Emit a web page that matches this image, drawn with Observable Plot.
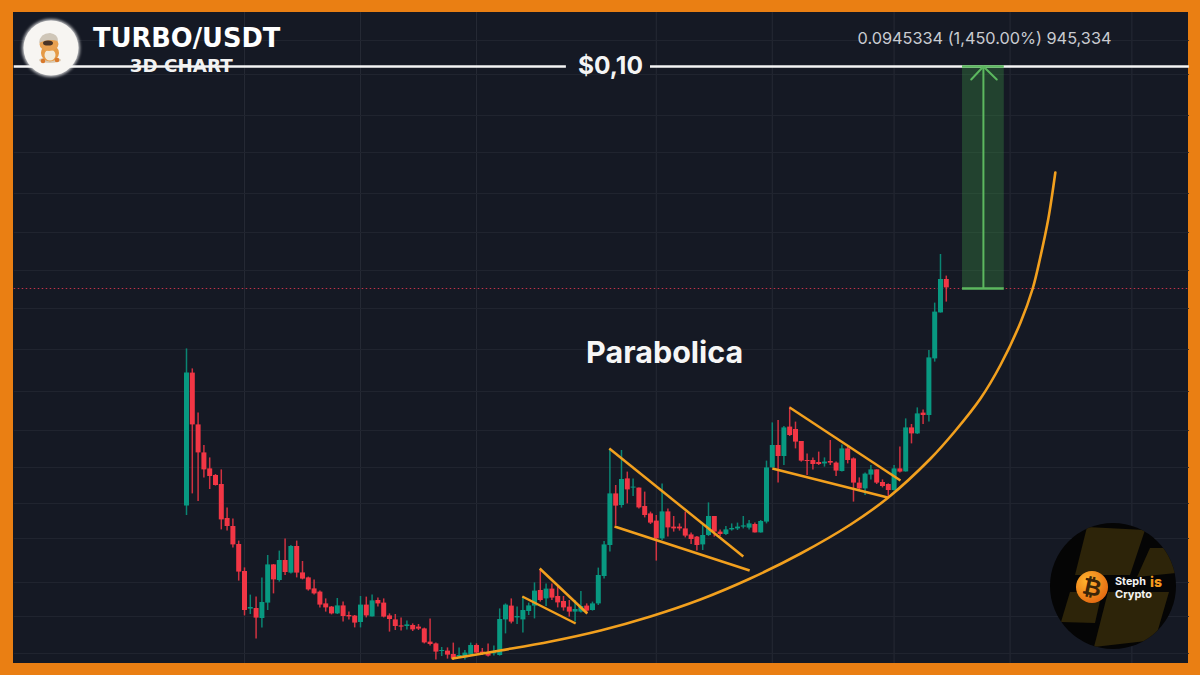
<!DOCTYPE html>
<html><head><meta charset="utf-8">
<script src="https://cdn.jsdelivr.net/npm/d3@7"></script>
<script src="https://cdn.jsdelivr.net/npm/@observablehq/plot@0.6"></script>
<style>
html,body{margin:0;padding:0;background:#ea7f13;overflow:hidden}
#panel{position:absolute;left:0;top:0;width:1200px;height:675px;box-sizing:border-box;background:#151924;
 border-style:solid;border-color:#ea7f13;border-width:12px 12px 12px 13.5px}
#chart{position:absolute;left:0;top:0;width:1200px;height:675px}
#chart svg{display:block;background:transparent}
.logo{position:absolute;left:0;top:0;width:1200px;height:675px;pointer-events:none}
</style></head><body>
<div id="panel"></div><div id="chart"></div>
<svg class="logo" viewBox="0 0 1200 675" xmlns="http://www.w3.org/2000/svg">
 <defs>
  <filter id="glow" x="-30%" y="-30%" width="160%" height="160%"><feGaussianBlur stdDeviation="1.6"/></filter>
  <clipPath id="disc"><circle cx="1113" cy="586" r="63"/></clipPath>
  <radialGradient id="coin" cx="35%" cy="30%" r="80%"><stop offset="0" stop-color="#ffb52e"/><stop offset="1" stop-color="#e2640f"/></radialGradient>
 </defs>
 <circle cx="51" cy="48" r="29" fill="#fff" opacity=".75" filter="url(#glow)"/>
 <circle cx="51" cy="48" r="27.5" fill="#f7f5f2"/>
 <ellipse cx="50" cy="60" rx="11" ry="3" fill="#d9c9b2"/>
 <ellipse cx="50" cy="53" rx="9" ry="8.5" fill="#e59a45"/>
 <ellipse cx="50" cy="55" rx="5.5" ry="5.5" fill="#f2ead9"/>
 <ellipse cx="49" cy="44" rx="9.5" ry="7" fill="#e8a050"/>
 <path d="M39 43 Q40 33 50 33 Q58 34 58 41 Q48 38 39 43Z" fill="#cfc6b8"/>
 <ellipse cx="48" cy="43" rx="5" ry="2.6" fill="#4a3426"/>
 <circle cx="43" cy="61" r="2.3" fill="#d9792c"/><circle cx="57" cy="60" r="2.3" fill="#d9792c"/>
 <circle cx="1113" cy="586" r="63" fill="#050505"/>
 <g clip-path="url(#disc)" fill="#2d2409">
  <path d="M1087 527 L1145 530 L1130 575 L1075 575Z"/>
  <path d="M1150 548 L1173 548 L1176 573 L1137 577Z"/>
  <path d="M1070 592 L1102 592 L1095 623 L1061 622Z"/>
  <path d="M1108 592 L1169 592 L1155 640 L1094 647Z"/>
 </g>
 <circle cx="1092" cy="587" r="16" fill="url(#coin)"/>
 <text x="1092" y="595" text-anchor="middle" font-family="Liberation Sans" font-weight="700" font-size="23" fill="#3a2408" transform="rotate(12 1092 587)">₿</text>
 <text x="1115" y="585" font-family="Inter" font-weight="700" font-size="10.8" fill="#f4f4f4">Steph</text>
 <text x="1150" y="587" font-family="Inter" font-weight="800" font-size="14" fill="#f59a1e">is</text>
 <text x="1115" y="597.5" font-family="Inter" font-weight="700" font-size="11" fill="#f4f4f4">Crypto</text>
</svg>
<script>
// Candles of the 3D chart. Values are chart levels proportional to log price.
const opens = [77.2,143.7,117.8,103.8,95.8,92.5,88,71,67,58,
44.5,25.7,26,21,28.7,47.8,40,50,43.7,57,
43.8,41.3,35.8,34.2,28.3,26.7,23.3,27.3,22.5,22.2,
19,27.7,21.8,30,28.7,22.3,20.3,17.3,17,17.5,
16.7,15.8,9.2,8.3,4.5,4.7,3,1.7,1.3,2.8,
7.5,4.2,3.8,3.3,2.5,20.3,27.2,21.3,20.3,24.5,
27.2,35,30.8,35.7,32,29.5,26.7,24.2,24.2,27.2,
25,28.3,42,57.5,83.3,77.5,90.8,86.2,86.2,77,
73.3,69.7,60.8,74.3,66.7,66.7,65.8,62.8,61.7,57.8,
62.5,72,64.2,63,65.3,65.8,66.7,66.2,68,63.8,
69.2,96.3,107.5,102,116.7,115.5,109.5,100,100,99,
98.3,99.5,98.7,94.5,105.8,100.8,88.7,85.8,92.7,95.3,
89,88,85,95.8,94.3,116.3,113.3,123.7,122.5,150.8,173.8,190.5];
const closes = [143.8,117.8,103.8,95.3,92,87.5,70.3,67,57.8,44.2,
25,26.5,21.2,29,47.8,40.3,50,44,57,43.7,
40.7,35.3,33.3,27.7,26.3,23.3,27.3,22,21.8,18.7,
27.7,22.3,29.8,28.3,21.7,20.5,17,16.7,17.8,15.3,
15.7,8.8,8,4.2,5,2.7,0.8,2.5,3.7,7.5,
3.7,3.3,2.2,4.2,20.5,27.7,19.2,22,25,27.3,
34.7,30,35.7,31.2,28.8,26.3,24.2,25.5,27,24.7,
28.3,42.5,57.8,83.3,77.2,90.5,85.3,86.7,76.3,72.5,
68.7,60.8,74.3,66.3,65.8,65.8,62.2,60.5,57.5,62.5,
72,64.2,63,65.3,66,66.7,67.3,68.3,63.8,69.5,
96.3,107.5,102,116.3,112.5,109.2,99.7,99.5,98,98,
99.2,98.7,94.7,105.8,100,88.7,85.8,93.2,95.3,88.7,
87,85,95.8,94.2,116.3,113.3,123.3,122.5,151.3,174.2,190.5,186.3];
const highs = [155.8,145.8,123.7,107.5,101.3,93,95.3,76.3,70.8,59.7,
46.3,32.7,31.7,41.2,52.5,48,54.7,60.8,57.5,59.7,
49.5,41.7,40.3,34.7,30.8,27,31,29.2,24.2,22.5,
32,31.7,32.8,31.3,30.8,23.3,23,21.2,19.7,18.3,
18,16.2,20.7,8.7,6.5,6.3,8.7,6.3,5,8.7,
8.3,6,8.3,7.2,25.8,28.3,30.8,26.7,31.7,28.7,
38.8,45,38.3,38.3,37,32,30,30,34.5,28.3,
29.2,46.2,59.5,105.8,87.5,105,94.2,90.8,86.2,84.2,
74.2,72.5,88.3,75.8,72,68.3,74.2,63.7,62,67.5,
78.8,72,65.3,67,68.3,68.7,72,70,68.7,70,
99.7,118.8,120,117,126.7,119.2,109.5,103.3,101.3,104.2,
101.3,110,99.2,107.8,106.7,101.3,91.3,93.7,97.5,95.3,
90.3,88.3,97.5,106.7,120.8,118,126.3,125.3,155,178.7,203,192.2];
const lows = [72.5,83.3,79.5,91.2,85.5,87.2,65.3,64.7,56.3,39.7,
22.3,23,10.8,16.3,25,33.3,39.2,42.5,43.3,41.3,
40.3,34.7,32.7,26.3,24.2,22.8,23,19.2,20.3,16.3,
16.3,21.3,21.7,26.7,21.3,14.2,15,14.7,15.3,14.5,
15,8.3,7.3,0.3,2,0.7,0,1.2,0.3,2.5,
3.3,2.5,1.7,2.2,2.2,13.3,18.3,18,13.7,22.5,
20.8,29.2,27,30,26.3,24.7,21.7,19.2,23.7,23.3,
24.7,27.5,40.8,54.2,67.5,76.2,78.3,82,75.8,71.3,
68,49.7,60,61.7,64.2,64.7,61.3,58,54.7,55,
62,61.7,62,62.5,64.7,65,65.8,65.3,63.7,63.7,
68.3,96.2,88.7,97.5,112,105.8,99.2,92.5,95.3,97.5,
96.7,97.5,92,94.2,98.3,79.2,85,82.5,90.3,88,
86.3,81.7,84.7,93.7,94.2,108.3,113,118,119.2,149.2,173.7,179.2];

// Gridlines
const gridBars = [10,30,50,81,101,122,142,163];
const gridLevels = [310,293,272.5,254,233.5,214,195,176,155.5,134.5,115,96.5,78.5,61,39,22,3.5];

// Parabolic support curve
const curveBars = [45.9,54.1,62.8,71.4,80,88.6,97.2,105.9,114.5,121,128.3,132.6,136.9,140.3,143.8,145.9,147.2,148.6,149.8];
const curveLevels = [1,5,9.5,15,22,30.5,41,53.5,68,81.5,101,115,131,147.5,169,186,201.5,221,244];

// Bull flag trendlines
const flagBar1 = [60.9,57.9,72.9,73.8,104,101];
const flagLevel1 = [46,32,106,67,126.5,96];
const flagBar2 = [69.1,67.1,96,97.1,123.1,120.9];
const flagLevel2 = [23.5,18.5,52,45,90,81.5];

// Target projection
const entryLevel = 186, targetLevel = 297;
const boxBars = [133.8,141], arrowBar = 137.4;
const chevronBars = [135.3,137.4,139.7], chevronLevels = [290.5,297,290.5];
const leftEdge = -29.7, rightEdge = 172.9, labelGap = [65.5,80];

const candles = opens.map((open,i)=>({i,open,close:closes[i],high:highs[i],low:lows[i]}));
const green="#089981", red="#f23645", amber="#f2a01e", target="#5cb85f";
const col = d => d.close>=d.open ? green : red;
const curve = curveBars.map((x,k)=>({x,y:curveLevels[k]}));
const chevron = chevronBars.map((x,k)=>({x,y:chevronLevels[k]}));

const plot = Plot.plot({
  width:1200,height:675,margin:0,
  x:{type:"linear",domain:[-32.069,174.83],range:[0,1200],axis:null},
  y:{type:"linear",domain:[-7.5,330],range:[675,0],axis:null},
  style:{background:"transparent"},
  marks:[
    Plot.ruleX(gridBars,{x:d=>d,y1:-1.5,y2:324,stroke:"#262a35",strokeWidth:1}),
    Plot.ruleY(gridLevels,{y:d=>d,x1:leftEdge,x2:rightEdge,stroke:"#20242f",strokeWidth:1}),
    Plot.ruleY([entryLevel],{x1:leftEdge,x2:rightEdge,stroke:"#c2334a",strokeWidth:1,strokeDasharray:"1.5 2.5"}),
    Plot.rect([0],{x1:boxBars[0],x2:boxBars[1],y1:entryLevel,y2:targetLevel,fill:"#3f9a48",fillOpacity:0.32}),
    Plot.ruleY([leftEdge],{y:targetLevel,x1:leftEdge,x2:labelGap[0],stroke:"#f4f4f4",strokeWidth:2.4}),
    Plot.ruleY([labelGap[1]],{y:targetLevel,x1:labelGap[1],x2:rightEdge,stroke:"#f4f4f4",strokeWidth:2.4}),
    Plot.ruleY([entryLevel,targetLevel],{y:d=>d,x1:boxBars[0],x2:boxBars[1],stroke:target,strokeWidth:2.4}),
    Plot.ruleX([arrowBar],{y1:entryLevel,y2:targetLevel,stroke:target,strokeWidth:2}),
    Plot.line(chevron,{x:"x",y:"y",stroke:target,strokeWidth:2}),
    Plot.ruleX(candles,{x:"i",y1:"low",y2:"high",stroke:col,strokeWidth:1.5,strokeOpacity:.85}),
    Plot.ruleX(candles,{x:"i",y1:"open",y2:"close",stroke:col,strokeWidth:5}),
    Plot.link(flagBar1,{x1:flagBar1,y1:flagLevel1,x2:flagBar2,y2:flagLevel2,stroke:amber,strokeWidth:2.5}),
    Plot.line(curve,{x:"x",y:"y",curve:"catmull-rom",stroke:amber,strokeWidth:2.6}),
    Plot.text(["TURBO/USDT"],{x:-16.1,y:311,text:d=>d,textAnchor:"start",fill:"#fff",fontSize:25.7,fontWeight:700,fontFamily:"DejaVu Sans"}),
    Plot.text(["3D CHART"],{x:-0.9,y:297,text:d=>d,fill:"#f2f2f2",fontSize:18.3,fontWeight:700,fontFamily:"DejaVu Sans"}),
    Plot.text(["0.0945334 (1,450.00%) 945,334"],{x:115.7,y:311,text:d=>d,textAnchor:"start",fill:"#c9cbd1",fontSize:16.3,fontFamily:"Inter"}),
    Plot.text(["$0,10"],{x:73.1,y:297,text:d=>d,fill:"#f4f4f4",fontSize:24.5,fontWeight:700,fontFamily:"Inter"}),
    Plot.text(["Parabolica"],{x:68.9,y:153.7,text:d=>d,textAnchor:"start",fill:"#f6f6f6",fontSize:30.5,fontWeight:700,fontFamily:"Inter"})
  ]
});
document.getElementById("chart").append(plot);
</script>
</body></html>
